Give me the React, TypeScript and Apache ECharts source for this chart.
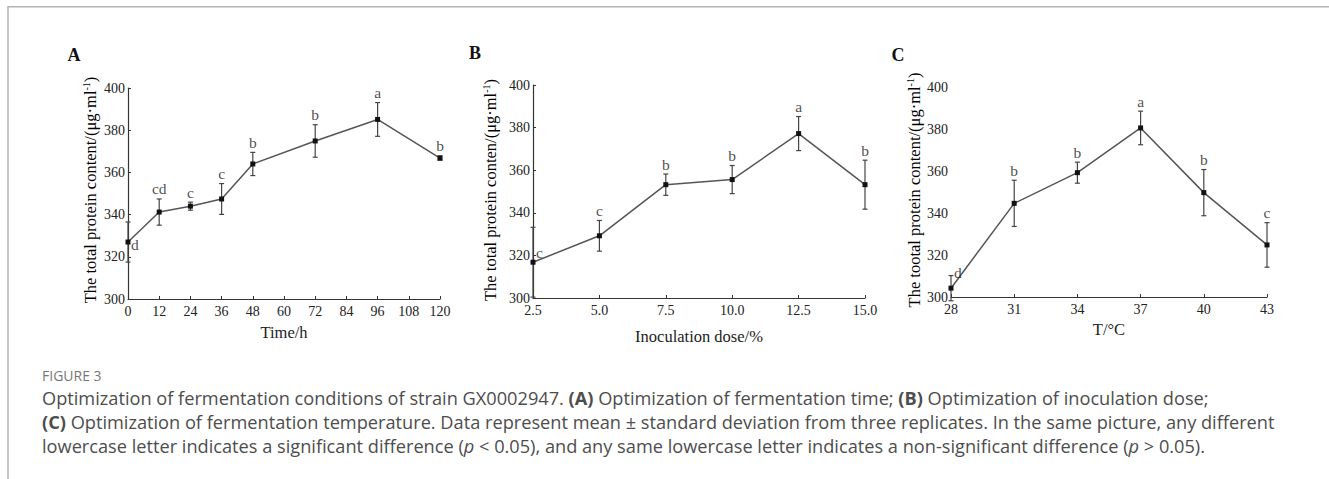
import React, { useEffect, useRef } from "react";
import * as echarts from "echarts";

// ---- Data ----
const TIME = [0, 12, 24, 36, 48, 72, 96, 120];
const TIME_MEAN = [327, 341.2, 344, 347.4, 364, 374.9, 385.1, 366.8];
const TIME_SD = [9.5, 6.2, 1.9, 7.3, 5.5, 7.7, 8, 1];
const TIME_SIG = ["d", "cd", "c", "c", "b", "b", "a", "b"];

const DOSE = [2.5, 5.0, 7.5, 10.0, 12.5, 15.0];
const DOSE_MEAN = [316.8, 329.2, 353.2, 355.6, 377.2, 353.2];
const DOSE_SD = [16.4, 7.2, 5, 6.6, 8, 11.5];
const DOSE_SIG = ["c", "c", "b", "b", "a", "b"];

const TEMP = ["28", "31", "34", "37", "40", "43"];
const TEMP_MEAN = [304.2, 344.6, 359.2, 380.5, 349.7, 324.8];
const TEMP_SD = [6, 11, 5, 8, 11, 10.6];
const TEMP_SIG = ["d", "b", "b", "a", "b", "c"];

const Y_TICKS = { min: 300, max: 400, interval: 20 };

const SERIF = "'Liberation Serif', 'Times New Roman', serif";
const SANS = "'Open Sans', 'Noto Sans', sans-serif";
const AXIS_COLOR = "#333";
const LINE_COLOR = "#555";
const CAP_COLOR = "#4d4d4d";

function errorBarSeries(idx: number, xs: (number | string)[], mean: number[], sd: number[]) {
  return {
    type: "custom",
    xAxisIndex: idx,
    yAxisIndex: idx,
    z: 3,
    data: xs.map((x, i) => [typeof x === "string" ? i : x, mean[i] - sd[i], mean[i] + sd[i]]),
    renderItem: (params: any, api: any) => {
      const x = api.value(0);
      const lo = api.coord([x, api.value(1)]);
      const hi = api.coord([x, api.value(2)]);
      const w = 2.5;
      const style = { stroke: "#444", lineWidth: 1.2 };
      return {
        type: "group",
        children: [
          { type: "line", shape: { x1: lo[0], y1: lo[1], x2: hi[0], y2: hi[1] }, style },
          { type: "line", shape: { x1: hi[0] - w, y1: hi[1], x2: hi[0] + w, y2: hi[1] }, style },
          { type: "line", shape: { x1: lo[0] - w, y1: lo[1], x2: lo[0] + w, y2: lo[1] }, style },
        ],
      };
    },
  };
}

function lineSeries(idx: number, xs: (number | string)[], mean: number[]) {
  return {
    type: "line",
    xAxisIndex: idx,
    yAxisIndex: idx,
    z: 4,
    data: xs.map((x, i) => [x, mean[i]]),
    symbol: "rect",
    symbolSize: 5,
    lineStyle: { color: LINE_COLOR, width: 1.5 },
    itemStyle: { color: "#111" },
  };
}

function sigSeries(
  idx: number,
  xs: (number | string)[],
  mean: number[],
  sd: number[],
  sig: string[],
  firstOffset: number
) {
  return {
    type: "scatter",
    xAxisIndex: idx,
    yAxisIndex: idx,
    symbolSize: 0,
    z: 5,
    data: xs.map((x, i) => {
      if (i === 0) {
        return {
          value: [x, mean[i]],
          label: { position: "right", distance: 3, offset: [0, firstOffset] },
        };
      }
      return { value: [x, mean[i] + sd[i]] };
    }),
    label: {
      show: true,
      position: "top",
      distance: 2,
      fontFamily: SERIF,
      fontSize: 15.5,
      color: "#222",
      formatter: (p: any) => sig[p.dataIndex],
    },
  };
}

const axisCommon = {
  axisLine: { lineStyle: { color: AXIS_COLOR, width: 1.2 } },
  axisTick: { inside: true, length: 3, lineStyle: { color: AXIS_COLOR } },
  splitLine: { show: false },
  axisLabel: { fontFamily: SERIF, fontSize: 14, color: "#222" },
};

function yAxis(idx: number) {
  return {
    type: "value",
    gridIndex: idx,
    ...Y_TICKS,
    ...axisCommon,
    axisLabel: { ...axisCommon.axisLabel, margin: 3 },
  };
}

function yName(text: string, cx: number) {
  return {
    type: "text",
    x: cx,
    y: 190,
    rotation: Math.PI / 2,
    style: {
      text: `{n|${text}/(μg·ml}{s|-1}{n|)}`,
      align: "center",
      verticalAlign: "middle",
      rich: {
        n: { fontFamily: SERIF, fontSize: 16.5, color: "#222", lineHeight: 18 },
        s: { fontFamily: SERIF, fontSize: 10, color: "#222", lineHeight: 18, verticalAlign: "top", padding: [0, 0, 8, 0] },
      },
    },
  };
}

function panelLetter(t: string, x: number, y: number) {
  return {
    type: "text",
    x,
    y,
    style: {
      text: t,
      fontFamily: SERIF,
      fontSize: 18,
      fontWeight: "bold",
      fill: "#111",
      align: "center",
      verticalAlign: "middle",
    },
  };
}

const CAP_SIZE = 18.2;
const captionRich = {
  b: { fontFamily: SANS, fontSize: CAP_SIZE, fontWeight: "bold", color: CAP_COLOR },
  i: { fontFamily: SANS, fontSize: CAP_SIZE, fontStyle: "italic", color: CAP_COLOR },
};

function captionLine(text: string, y: number) {
  return {
    type: "text",
    x: 42,
    y,
    style: {
      text,
      fontFamily: SANS,
      fontSize: CAP_SIZE,
      fill: CAP_COLOR,
      verticalAlign: "middle",
      rich: captionRich,
    },
  };
}

export default function App() {
  const ref = useRef<HTMLDivElement>(null);

  useEffect(() => {
    document.body.style.margin = "0";
    if (!ref.current) return;
    const chart = echarts.init(ref.current, undefined, { renderer: "svg" });
    const option: any = {
      animation: false,
      backgroundColor: "#fff",
      grid: [
        { left: 128, top: 88, width: 312, height: 211 },
        { left: 533, top: 85, width: 332, height: 213 },
        { left: 951, top: 87, width: 316, height: 210 },
      ],
      xAxis: [
        {
          type: "value",
          gridIndex: 0,
          min: 0,
          max: 120,
          interval: 12,
          ...axisCommon,
          axisLabel: { ...axisCommon.axisLabel, margin: 5 },
          name: "Time/h",
          nameLocation: "middle",
          nameGap: 25,
          nameTextStyle: { fontFamily: SERIF, fontSize: 16.5, color: "#222" },
        },
        {
          type: "value",
          gridIndex: 1,
          min: 2.5,
          max: 15,
          interval: 2.5,
          ...axisCommon,
          axisLabel: { ...axisCommon.axisLabel, margin: 5, formatter: (v: number) => v.toFixed(1) },
          name: "Inoculation dose/%",
          nameLocation: "middle",
          nameGap: 30,
          nameTextStyle: { fontFamily: SERIF, fontSize: 16.5, color: "#222" },
        },
        {
          type: "category",
          gridIndex: 2,
          data: TEMP,
          boundaryGap: false,
          ...axisCommon,
          axisTick: { ...axisCommon.axisTick, alignWithLabel: true },
          axisLabel: { ...axisCommon.axisLabel, margin: 5 },
          name: "T/°C",
          nameLocation: "middle",
          nameGap: 24,
          nameTextStyle: { fontFamily: SERIF, fontSize: 16.5, color: "#222" },
        },
      ],
      yAxis: [yAxis(0), yAxis(1), yAxis(2)],
      series: [
        errorBarSeries(0, TIME, TIME_MEAN, TIME_SD),
        lineSeries(0, TIME, TIME_MEAN),
        sigSeries(0, TIME, TIME_MEAN, TIME_SD, TIME_SIG, 2),
        errorBarSeries(1, DOSE, DOSE_MEAN, DOSE_SD),
        lineSeries(1, DOSE, DOSE_MEAN),
        sigSeries(1, DOSE, DOSE_MEAN, DOSE_SD, DOSE_SIG, -10),
        errorBarSeries(2, TEMP, TEMP_MEAN, TEMP_SD),
        lineSeries(2, TEMP, TEMP_MEAN),
        sigSeries(2, TEMP, TEMP_MEAN, TEMP_SD, TEMP_SIG, -16),
      ],
      graphic: [
        { type: "line", shape: { x1: 8, y1: 6.75, x2: 1329, y2: 6.75 }, style: { stroke: "#b5b5b5", lineWidth: 1.5 } },
        { type: "line", shape: { x1: 8, y1: 6, x2: 8, y2: 479 }, style: { stroke: "#b5b5b5", lineWidth: 1.5 } },
        panelLetter("A", 74, 55),
        panelLetter("B", 475, 53),
        panelLetter("C", 898, 55),
        yName("The total protein content", 90),
        yName("The total protein conten", 490),
        yName("The tootal protein content", 914),
        {
          type: "text",
          x: 42,
          y: 375,
          style: { text: "FIGURE 3", fontFamily: SANS, fontSize: 14, fill: "#777", verticalAlign: "middle" },
        },
        captionLine(
          "Optimization of fermentation conditions of strain GX0002947. {b|(A)} Optimization of fermentation time; {b|(B)} Optimization of inoculation dose;",
          398
        ),
        captionLine(
          "{b|(C)} Optimization of fermentation temperature. Data represent mean ± standard deviation from three replicates. In the same picture, any different",
          422
        ),
        captionLine(
          "lowercase letter indicates a significant difference ({i|p} < 0.05), and any same lowercase letter indicates a non-significant difference ({i|p} > 0.05).",
          446
        ),
      ],
    };
    chart.setOption(option);
    return () => chart.dispose();
  }, []);

  return <div ref={ref} style={{ width: 1329, height: 479 }} />;
}
